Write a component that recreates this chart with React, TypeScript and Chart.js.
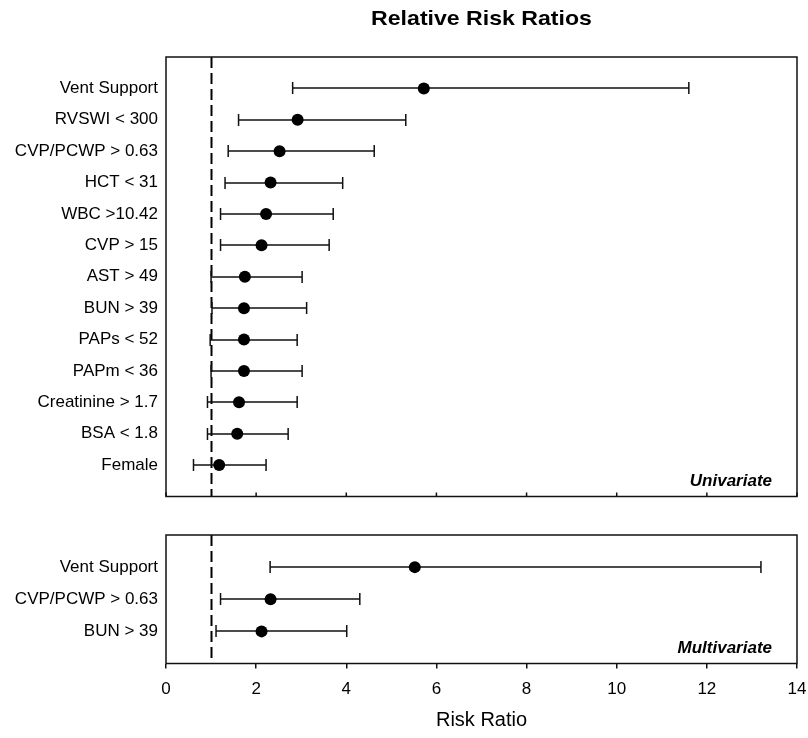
import React, { useEffect, useRef } from "react";
import { Chart, registerables } from "chart.js";

Chart.register(...registerables);

// ---------- data ----------
const chartTitle = "Relative Risk Ratios";
const xAxisTitle = "Risk Ratio";
const xTicks = [0, 2, 4, 6, 8, 10, 12, 14];
const referenceRR = 1;

const uniLabels = [
  "Vent Support",
  "RVSWI < 300",
  "CVP/PCWP > 0.63",
  "HCT < 31",
  "WBC >10.42",
  "CVP > 15",
  "AST > 49",
  "BUN > 39",
  "PAPs < 52",
  "PAPm < 36",
  "Creatinine > 1.7",
  "BSA < 1.8",
  "Female",
];
const uniRR = [5.72, 2.92, 2.52, 2.32, 2.22, 2.12, 1.75, 1.73, 1.73, 1.73, 1.62, 1.58, 1.18];
const uniLower = [2.81, 1.61, 1.38, 1.31, 1.21, 1.21, 1.0, 1.02, 0.98, 1.0, 0.92, 0.92, 0.61];
const uniUpper = [11.6, 5.32, 4.62, 3.92, 3.71, 3.62, 3.02, 3.12, 2.91, 3.02, 2.91, 2.71, 2.22];

const multiLabels = ["Vent Support", "CVP/PCWP > 0.63", "BUN > 39"];
const multiRR = [5.52, 2.32, 2.12];
const multiLower = [2.31, 1.21, 1.11];
const multiUpper = [13.2, 4.3, 4.01];

const uniPanelLabel = "Univariate";
const multiPanelLabel = "Multivariate";

// ---------- styling ----------
const FONT = "Arial, 'Liberation Sans', Helvetica, sans-serif";
const W = 808;
const TOP_H = 505;
const BOT_H = 233;

function forestPlugin(
  lower: number[],
  upper: number[],
  panelLabel: string,
  innerTicks: boolean,
  title: string | null
) {
  return {
    id: "forest",
    beforeDatasetsDraw(chart: any) {
      const { ctx, chartArea: a, scales } = chart;
      const x = scales.x;
      const y = scales.y;
      ctx.save();
      // reference line
      const rx = Math.round(x.getPixelForValue(referenceRR)) + 0.5;
      ctx.strokeStyle = "#000";
      ctx.lineWidth = 2;
      ctx.setLineDash([11, 5]);
      ctx.beginPath();
      ctx.moveTo(rx, a.top);
      ctx.lineTo(rx, a.bottom);
      ctx.stroke();
      ctx.setLineDash([]);
      // error bars
      ctx.lineWidth = 1.5;
      ctx.strokeStyle = "#111";
      lower.forEach((lo: number, i: number) => {
        const py = Math.round(y.getPixelForValue(i + 1));
        const x1 = x.getPixelForValue(lo);
        const x2 = x.getPixelForValue(upper[i]);
        ctx.beginPath();
        ctx.moveTo(x1, py);
        ctx.lineTo(x2, py);
        ctx.moveTo(x1, py - 6);
        ctx.lineTo(x1, py + 6);
        ctx.moveTo(x2, py - 6);
        ctx.lineTo(x2, py + 6);
        ctx.stroke();
      });
      ctx.restore();
    },
    afterDraw(chart: any) {
      const { ctx, chartArea: a, scales } = chart;
      const x = scales.x;
      ctx.save();
      ctx.strokeStyle = "#111";
      ctx.lineWidth = 1.5;
      ctx.strokeRect(a.left, a.top, a.right - a.left, a.bottom - a.top);
      if (innerTicks) {
        ctx.beginPath();
        xTicks.forEach((v) => {
          const px = x.getPixelForValue(v);
          ctx.moveTo(px, a.bottom);
          ctx.lineTo(px, a.bottom - 4);
        });
        ctx.stroke();
      }
      ctx.fillStyle = "#000";
      ctx.font = `italic bold 17px ${FONT}`;
      ctx.textAlign = "right";
      ctx.textBaseline = "alphabetic";
      ctx.fillText(panelLabel, a.right - 25, a.bottom - 10.5);
      if (title) {
        ctx.translate((a.left + a.right) / 2, 19.5);
        ctx.scale(1.1, 1);
        ctx.font = `bold 21px ${FONT}`;
        ctx.textAlign = "center";
        ctx.textBaseline = "middle";
        ctx.fillText(title, 0, 0);
      }
      ctx.restore();
    },
  };
}

function makeConfig(
  labels: string[],
  rr: number[],
  lower: number[],
  upper: number[],
  panelLabel: string,
  isBottom: boolean
): any {
  const n = labels.length;
  return {
    type: "scatter",
    data: {
      datasets: [
        {
          data: rr.map((v, i) => ({ x: v, y: i + 1 })),
          pointRadius: 6,
          pointHoverRadius: 6,
          pointBackgroundColor: "#000",
          pointBorderColor: "#000",
          pointBorderWidth: 0,
          showLine: false,
        },
      ],
    },
    options: {
      responsive: false,
      animation: false,
      devicePixelRatio: 1,
      events: [],
      layout: {
        autoPadding: false,
        padding: isBottom
          ? { top: 30, bottom: 0, left: 0, right: 11 }
          : { top: 57, bottom: 8.5, left: 0, right: 11 },
      },
      plugins: {
        legend: { display: false },
        tooltip: { enabled: false },
        title: { display: false },
      },
      scales: {
        x: {
          type: "linear",
          min: 0,
          max: 14,
          display: isBottom,
          afterBuildTicks: (s: any) => {
            s.ticks = xTicks.map((v) => ({ value: v }));
          },
          afterFit: (s: any) => {
            s.height = isBottom ? 74.5 : 0;
            s.paddingLeft = 0;
            s.paddingRight = 0;
          },
          border: { display: false },
          grid: {
            display: true,
            drawOnChartArea: false,
            drawTicks: true,
            tickLength: 5,
            color: "#111",
            lineWidth: 1.5,
          },
          ticks: {
            color: "#000",
            font: { family: FONT, size: 17 },
            padding: 11,
            maxRotation: 0,
            autoSkip: false,
          },
          title: {
            display: isBottom,
            text: xAxisTitle,
            color: "#000",
            font: { family: FONT, size: 20 },
            padding: { top: 0, bottom: 6 },
          },
        },
        y: {
          type: "linear",
          min: 0,
          max: n + 1,
          reverse: true,
          afterBuildTicks: (s: any) => {
            s.ticks = labels.map((_, i) => ({ value: i + 1 }));
          },
          afterFit: (s: any) => {
            s.width = 166;
            s.paddingTop = 0;
            s.paddingBottom = 0;
          },
          border: { display: false },
          grid: { display: false, drawTicks: false },
          ticks: {
            color: "#000",
            font: { family: FONT, size: 17 },
            padding: 8,
            autoSkip: false,
            callback: (v: number) => labels[Math.round(v) - 1] ?? "",
          },
        },
      },
    },
    plugins: [forestPlugin(lower, upper, panelLabel, !isBottom, isBottom ? null : chartTitle)],
  };
}

export default function App() {
  const topRef = useRef<HTMLCanvasElement | null>(null);
  const botRef = useRef<HTMLCanvasElement | null>(null);

  useEffect(() => {
    const c1 = new Chart(
      topRef.current as HTMLCanvasElement,
      makeConfig(uniLabels, uniRR, uniLower, uniUpper, uniPanelLabel, false)
    );
    const c2 = new Chart(
      botRef.current as HTMLCanvasElement,
      makeConfig(multiLabels, multiRR, multiLower, multiUpper, multiPanelLabel, true)
    );
    return () => {
      c1.destroy();
      c2.destroy();
    };
  }, []);

  return (
    <div
      style={{
        position: "absolute",
        left: 0,
        top: 0,
        width: W,
        height: TOP_H + BOT_H,
        background: "#fff",
      }}
    >
      <canvas
        ref={topRef}
        width={W}
        height={TOP_H}
        style={{ position: "absolute", left: 0, top: 0, width: W, height: TOP_H }}
      />
      <canvas
        ref={botRef}
        width={W}
        height={BOT_H}
        style={{ position: "absolute", left: 0, top: TOP_H, width: W, height: BOT_H }}
      />
    </div>
  );
}
